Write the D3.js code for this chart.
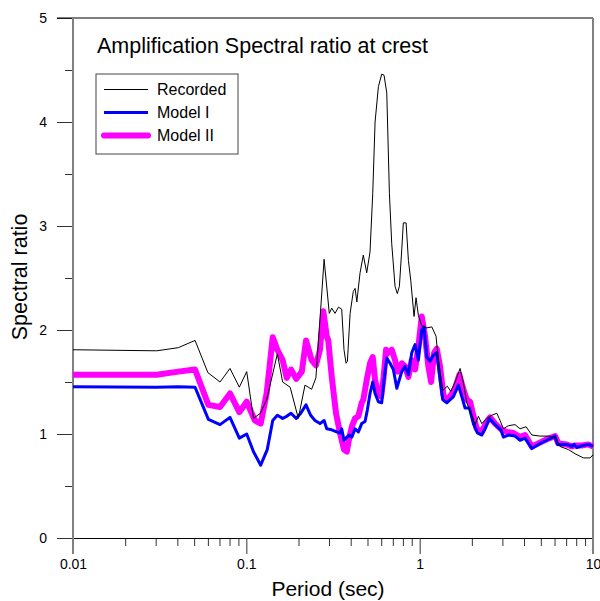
<!DOCTYPE html>
<html>
<head>
<meta charset="utf-8">
<script src="https://cdn.jsdelivr.net/npm/d3@7"></script>
<style>
  body { margin: 0; background: #fff; }
  text { font-family: "Liberation Sans", Arial, sans-serif; fill: #000; }
</style>
</head>
<body>
<svg id="chart" width="600" height="601"></svg>
<script>
// periods (sec) and spectral ratios
const recPeriod = [0.01, 0.0304, 0.0405, 0.0506, 0.060, 0.0705, 0.0805, 0.0911, 0.1005, 0.110, 0.1205, 0.131,
  0.151, 0.162, 0.179, 0.1995, 0.218, 0.238, 0.252, 0.270, 0.281, 0.301, 0.311, 0.325, 0.340, 0.355, 0.366,
  0.376, 0.383, 0.397, 0.414, 0.424, 0.434, 0.453, 0.473, 0.495, 0.517, 0.536, 0.553, 0.578, 0.604, 0.623,
  0.646, 0.669, 0.690, 0.721, 0.743, 0.764, 0.788, 0.805, 0.835, 0.861, 0.888, 0.928, 0.953, 0.983, 1.028,
  1.099, 1.175, 1.243, 1.282, 1.359, 1.444, 1.511, 1.601, 1.711, 1.787, 1.870, 1.998, 2.088, 2.182, 2.282,
  2.439, 2.606, 2.785, 2.910, 3.041, 3.250, 3.553, 3.796, 4.111, 4.437, 4.952, 5.529, 6.043, 6.458, 7.214,
  7.884, 8.803, 9.623, 10];
const recValue = [1.81, 1.80, 1.83, 1.90, 1.59, 1.50, 1.63, 1.45, 1.60, 1.15, 1.20, 1.33,
  1.77, 1.50, 1.45, 1.15, 1.47, 1.43, 1.54, 2.26, 2.68, 2.16, 2.21, 2.16, 2.22, 2.20, 1.81,
  1.68, 1.70, 2.16, 2.37, 2.40, 2.27, 2.55, 2.72, 2.55, 2.75, 3.31, 4.00, 4.34, 4.46, 4.45,
  4.28, 3.31, 2.83, 2.42, 2.35, 2.42, 2.77, 3.03, 3.03, 2.67, 2.48, 2.13, 2.31, 2.14, 2.04,
  2.02, 2.03, 1.94, 1.71, 1.42, 1.46, 1.41, 1.50, 1.63, 1.49, 1.30, 1.18, 1.09, 1.17, 1.10,
  1.15, 1.18, 1.20, 1.13, 1.05, 1.08, 1.09, 1.05, 1.07, 0.99, 0.98, 0.98, 0.97, 0.88, 0.85,
  0.81, 0.77, 0.77, 0.80];

const m1Period = [0.01, 0.0304, 0.0405, 0.0506, 0.0604, 0.0705, 0.0805, 0.0911, 0.1005, 0.110, 0.121, 0.132,
  0.142, 0.151, 0.162, 0.171, 0.181, 0.194, 0.206, 0.221, 0.235, 0.249, 0.266, 0.281, 0.291, 0.311, 0.332,
  0.347, 0.355, 0.366, 0.380, 0.393, 0.406, 0.424, 0.443, 0.463, 0.484, 0.499, 0.517, 0.536, 0.553, 0.578,
  0.604, 0.623, 0.646, 0.675, 0.705, 0.738, 0.788, 0.824, 0.861, 0.900, 0.941, 0.983, 1.028, 1.060, 1.099,
  1.148, 1.200, 1.255, 1.311, 1.359, 1.433, 1.565, 1.673, 1.750, 1.828, 1.935, 2.041, 2.153, 2.282, 2.384,
  2.525, 2.723, 2.938, 3.041, 3.250, 3.553, 3.796, 4.057, 4.437, 4.842, 5.412, 6.043, 6.231, 7.061, 7.547,
  7.780, 8.064, 8.803, 9.408, 10];
const m1Value = [1.455, 1.45, 1.455, 1.45, 1.14, 1.09, 1.16, 0.96, 1.00, 0.83, 0.70, 0.85,
  1.13, 1.18, 1.15, 1.17, 1.20, 1.15, 1.20, 1.28, 1.18, 1.13, 1.10, 1.13, 1.05, 1.04, 1.02,
  1.01, 1.05, 0.94, 0.97, 0.99, 0.97, 1.05, 1.02, 1.10, 1.12, 1.23, 1.39, 1.50, 1.39, 1.31,
  1.30, 1.52, 1.73, 1.68, 1.62, 1.44, 1.60, 1.65, 1.57, 1.78, 1.86, 1.71, 2.00, 2.03, 1.74,
  1.70, 1.76, 1.78, 1.52, 1.33, 1.30, 1.36, 1.47, 1.36, 1.25, 1.25, 1.10, 1.01, 0.99, 1.05,
  1.15, 1.09, 1.04, 0.97, 0.99, 0.98, 0.94, 0.96, 0.86, 0.90, 0.94, 0.98, 0.90, 0.90, 0.88,
  0.90, 0.87, 0.89, 0.90, 0.88];

const m2Period = [0.01, 0.0304, 0.0405, 0.0506, 0.0604, 0.0705, 0.0805, 0.0911, 0.1005, 0.112, 0.121, 0.131,
  0.142, 0.151, 0.162, 0.171, 0.181, 0.194, 0.209, 0.221, 0.238, 0.252, 0.266, 0.278, 0.291, 0.297, 0.311,
  0.329, 0.347, 0.366, 0.380, 0.393, 0.406, 0.424, 0.443, 0.463, 0.473, 0.495, 0.517, 0.536, 0.553, 0.578,
  0.599, 0.617, 0.640, 0.660, 0.690, 0.721, 0.747, 0.788, 0.824, 0.861, 0.900, 0.941, 0.983, 1.028, 1.074,
  1.123, 1.164, 1.211, 1.255, 1.311, 1.370, 1.401, 1.497, 1.601, 1.695, 1.773, 1.870, 1.953, 2.025, 2.135,
  2.282, 2.439, 2.548, 2.723, 2.977, 3.181, 3.473, 3.796, 4.057, 4.437, 4.842, 5.412, 6.043, 6.314, 7.061,
  7.547, 7.884, 8.617, 9.408, 10];
const m2Value = [1.57, 1.57, 1.60, 1.62, 1.28, 1.26, 1.39, 1.21, 1.31, 1.13, 1.10, 1.39,
  1.93, 1.81, 1.71, 1.54, 1.62, 1.53, 1.60, 1.90, 1.71, 1.66, 1.81, 2.18, 1.94, 1.90, 1.55,
  1.20, 1.01, 0.85, 0.83, 0.97, 1.07, 1.15, 1.17, 1.30, 1.33, 1.52, 1.68, 1.74, 1.52, 1.38,
  1.36, 1.52, 1.81, 1.78, 1.81, 1.71, 1.60, 1.68, 1.65, 1.55, 1.71, 1.62, 1.84, 2.13, 1.94,
  1.65, 1.50, 1.78, 1.82, 1.65, 1.38, 1.33, 1.36, 1.44, 1.57, 1.45, 1.33, 1.31, 1.20, 1.05,
  1.02, 1.12, 1.16, 1.10, 1.04, 1.02, 1.01, 0.97, 0.99, 0.88, 0.91, 0.95, 0.98, 0.91, 0.90,
  0.88, 0.89, 0.89, 0.90, 0.88];

const seriesNames = ["Recorded", "Model I", "Model II"];
const yTicks = [0, 1, 2, 3, 4, 5];
const xTickLabels = ["0.01", "0.1", "1", "10"];

const width = 600;
const height = 601;
const margin = { top: 18, right: 7, bottom: 63, left: 73 };

const svg = d3.select("#chart");

const x = d3.scaleLog()
  .domain([0.01, 10])
  .range([margin.left, width - margin.right]);

const y = d3.scaleLinear()
  .domain([0, 5])
  .range([height - margin.bottom, margin.top]);

const majorX = xTickLabels.map(Number);
const minorX = [];
[0.01, 0.1, 1].forEach(dec => {
  for (let k = 2; k <= 9; k++) minorX.push(dec * k);
});
const minorY = yTicks.slice(0, -1).map(v => v + 0.5);

// x axis: minor + major ticks pointing down
const xMinor = svg.append("g")
  .attr("transform", `translate(0,${y(0)})`)
  .call(d3.axisBottom(x).tickValues(minorX).tickSize(8).tickSizeOuter(0).tickFormat(""));
xMinor.select(".domain").remove();

const xMajor = svg.append("g")
  .attr("transform", `translate(0,${y(0)})`)
  .call(d3.axisBottom(x).tickValues(majorX).tickSize(16).tickSizeOuter(0)
    .tickFormat((d, i) => xTickLabels[i]));
xMajor.select(".domain").attr("stroke", "#000").attr("stroke-width", 1.2);
xMajor.selectAll(".tick text")
  .attr("y", 31)
  .attr("dy", 0)
  .style("font-size", "14px");

svg.selectAll(".tick line").attr("stroke", "#333");

// y axis
const yMinor = svg.append("g")
  .attr("transform", `translate(${x(0.01)},0)`)
  .call(d3.axisLeft(y).tickValues(minorY).tickSize(8).tickSizeOuter(0).tickFormat(""));
yMinor.select(".domain").remove();
yMinor.selectAll(".tick line").attr("stroke", "#333");

const yMajor = svg.append("g")
  .attr("transform", `translate(${x(0.01)},0)`)
  .call(d3.axisLeft(y).tickValues(yTicks).tickSize(16).tickSizeOuter(0).tickFormat(d3.format("d")));
yMajor.select(".domain").remove();
yMajor.selectAll(".tick line").attr("stroke", "#333");
yMajor.selectAll(".tick text")
  .attr("x", -26)
  .style("font-size", "14px");

// frame
svg.append("line")
  .attr("x1", x(0.01) - 16).attr("x2", x(10))
  .attr("y1", y(5)).attr("y2", y(5))
  .attr("stroke", "#000").attr("stroke-width", 1.2);
svg.append("line")
  .attr("x1", x(0.01)).attr("x2", x(0.01))
  .attr("y1", y(5)).attr("y2", y(0) + 16)
  .attr("stroke", "#808080").attr("stroke-width", 2);
svg.append("line")
  .attr("x1", x(10)).attr("x2", x(10))
  .attr("y1", y(5)).attr("y2", y(0) + 16)
  .attr("stroke", "#808080").attr("stroke-width", 2);

// curves
const line = d3.line()
  .x(d => x(d[0]))
  .y(d => y(d[1]));

const zip = (p, v) => p.map((t, i) => [t, v[i]]);

svg.append("path")
  .datum(zip(m2Period, m2Value))
  .attr("fill", "none")
  .attr("stroke", "#ff00ff")
  .attr("stroke-width", 6)
  .attr("stroke-linejoin", "round")
  .attr("d", line);

svg.append("path")
  .datum(zip(m1Period, m1Value))
  .attr("fill", "none")
  .attr("stroke", "#0000ff")
  .attr("stroke-width", 3)
  .attr("stroke-linejoin", "round")
  .attr("d", line);

svg.append("path")
  .datum(zip(recPeriod, recValue))
  .attr("fill", "none")
  .attr("stroke", "#000")
  .attr("stroke-width", 1)
  .attr("d", line);

// title
svg.append("text")
  .attr("x", 97)
  .attr("y", 53)
  .style("font-size", "21.5px")
  .text("Amplification Spectral ratio at crest");

// legend
const legend = svg.append("g").attr("transform", "translate(96,74)");
legend.append("rect")
  .attr("width", 142).attr("height", 80)
  .attr("fill", "#fff").attr("stroke", "#444").attr("stroke-width", 1);

const legendStyles = [
  { color: "#000", w: 1 },
  { color: "#0000ff", w: 3 },
  { color: "#ff00ff", w: 6 }
];
seriesNames.forEach((name, i) => {
  const row = legend.append("g").attr("transform", `translate(0,${15.5 + i * 23})`);
  row.append("line")
    .attr("x1", 8).attr("x2", 52)
    .attr("stroke", legendStyles[i].color)
    .attr("stroke-width", legendStyles[i].w)
    .attr("stroke-linecap", i === 2 ? "round" : "butt");
  row.append("text")
    .attr("x", 61)
    .attr("dy", "0.36em")
    .style("font-size", "16px")
    .text(name);
});

// axis titles
svg.append("text")
  .attr("x", 328)
  .attr("y", 596)
  .attr("text-anchor", "middle")
  .style("font-size", "21px")
  .text("Period (sec)");

svg.append("text")
  .attr("transform", "translate(27,277) rotate(-90)")
  .attr("text-anchor", "middle")
  .style("font-size", "21.5px")
  .text("Spectral ratio");
</script>
</body>
</html>
